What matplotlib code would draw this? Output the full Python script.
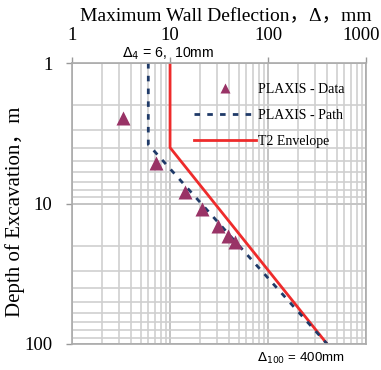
import matplotlib
matplotlib.use('Agg')
from matplotlib import pyplot as plt
from matplotlib.lines import Line2D
from matplotlib.ticker import FixedLocator, FixedFormatter
import matplotlib.transforms as mtransforms

# PLAXIS data points (deflection mm, depth m)
data_defl = [3.3, 7.2, 14.2, 21.2, 30.9, 39, 46]
data_depth = [2.45, 5.15, 8.3, 10.9, 14.5, 17, 18.8]

# PLAXIS path
path_defl = [6, 6, 400]
path_depth = [1, 3.8, 100]

# T2 envelope
env_defl = [10, 10, 400]
env_depth = [1, 4, 100]

x_ticks = [1, 10, 100, 1000]
x_labels = ['1', '10', '100', '1000']
y_ticks = [1, 10, 100]
y_labels = ['1', '10', '100']

serif = ['Liberation Serif', 'Noto Sans CJK SC']
sans = ['Liberation Sans', 'DejaVu Sans']
red = '#ee2b2b'
navy = '#1f3a68'
purple = '#993366'

fig = plt.figure(figsize=(3.81, 3.70), dpi=100)
ax = fig.add_axes([0.189, 0.0703, 0.772, 0.7594])

ax.set_xscale('log')
ax.set_yscale('log')
ax.set_xlim(1, 1000)
ax.set_ylim(100, 1)

ax.grid(True, which='major', color='#c4c4c4', lw=1.4)
ax.grid(True, which='minor', color='#cfcfcf', lw=1.2)
ax.set_axisbelow(True)

ax.plot(env_defl, env_depth, color=red, lw=2.0, solid_capstyle='butt')
ax.plot(path_defl, path_depth, color=navy, lw=2.0, dashes=(2.0, 2.6))
ax.plot(data_defl, data_depth, '^', color=purple, ms=10, mec='none')

ax.xaxis.tick_top()
ax.xaxis.set_major_locator(FixedLocator(x_ticks))
ax.xaxis.set_major_formatter(FixedFormatter(x_labels))
ax.yaxis.set_major_locator(FixedLocator(y_ticks))
ax.yaxis.set_major_formatter(FixedFormatter(y_labels))
ax.tick_params(which='major', length=4, color='#999999', width=1, labelsize=13.5)
ax.tick_params(axis='x', pad=10)
ax.tick_params(axis='y', pad=10)
ax.tick_params(which='minor', length=0)
for lab in ax.get_xticklabels() + ax.get_yticklabels():
    lab.set_family(serif)
# keep "1000" inside the figure
last = ax.get_xticklabels()[-1]
last.set_transform(last.get_transform() +
                   mtransforms.ScaledTranslation(-5 / 100, 0, fig.dpi_scale_trans))

for s in ax.spines.values():
    s.set_color('#aaaaaa')
    s.set_linewidth(1.2)

# axis titles placed directly on the figure
fig.text(226 / 381, 1 - 21 / 370, 'Maximum Wall Deflection，Δ，mm', family=serif,
         fontsize=14, ha='center', va='baseline')
fig.text(15 / 381, 1 - 212 / 370, 'Depth of Excavation，m', family=serif,
         fontsize=15, ha='center', va='center', rotation=90)

ax.text(9.5, 0.985, r'$\Delta_4$ = 6,  10mm', family=sans, fontsize=10.2,
        ha='center', va='bottom')
ax.text(215, 112, r'$\Delta_{100}$ = 400mm', family=sans, fontsize=9.5,
        ha='center', va='top')

handles = [
    Line2D([], [], ls='none', marker='^', color=purple, ms=7, mec='none'),
    Line2D([], [], color=navy, lw=2.0, dashes=(2.0, 2.6)),
    Line2D([], [], color=red, lw=2.0),
]
leg = ax.legend(handles, ['PLAXIS - Data', 'PLAXIS - Path', 'T2 Envelope'],
                loc='upper right', bbox_to_anchor=(0.97, 0.975), frameon=False,
                prop={'family': serif, 'size': 10}, handlelength=4.4,
                handletextpad=0.2, labelspacing=0.95)

fig.savefig('out.png', dpi=100)
